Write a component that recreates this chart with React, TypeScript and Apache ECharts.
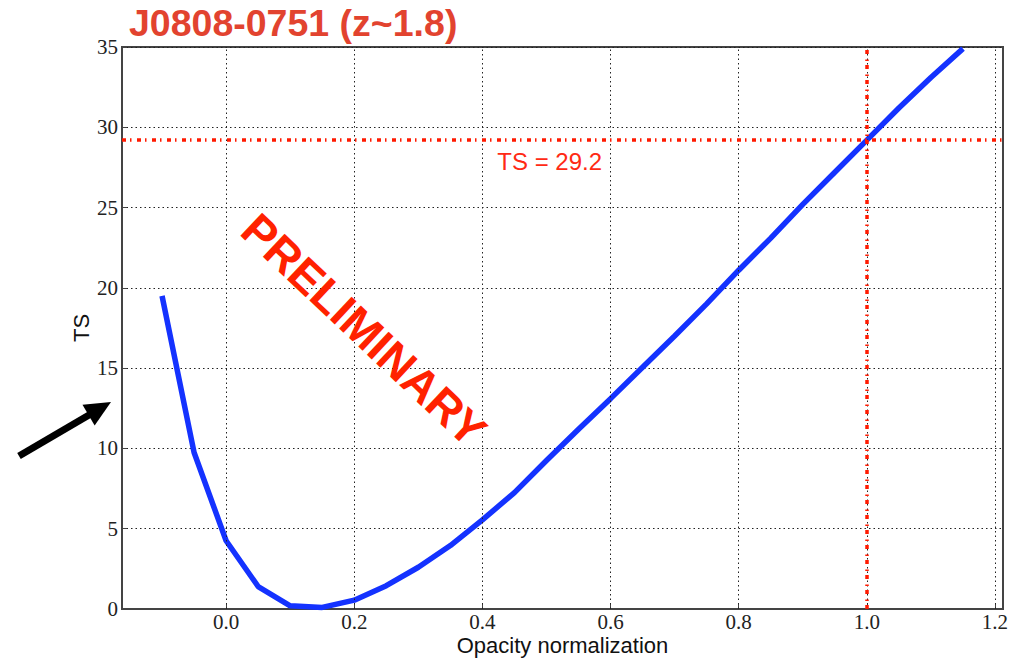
import { useEffect, useRef } from 'react';
import * as echarts from 'echarts';

// Likelihood scan: TS as a function of the opacity normalization
const opacityNorm = [
  -0.1, -0.05, 0.0, 0.05, 0.1, 0.15, 0.2, 0.25, 0.3, 0.35, 0.4, 0.45, 0.5,
  0.55, 0.6, 0.65, 0.7, 0.75, 0.8, 0.85, 0.9, 0.95, 1.0, 1.05, 1.1, 1.15,
];
const tsValues = [
  19.5, 9.75, 4.25, 1.4, 0.2, 0.1, 0.55, 1.45, 2.6, 3.95, 5.55, 7.25, 9.25,
  11.2, 13.1, 15.05, 17.0, 19.0, 21.1, 23.1, 25.2, 27.2, 29.2, 31.2, 33.1, 34.9,
];

const xTickValues = [0.0, 0.2, 0.4, 0.6, 0.8, 1.0, 1.2];
const xRange = [-0.1625, 1.2125];
const yRange = [0, 35];
const yTickStep = 5;

const referenceNorm = 1.0;
const referenceTS = 29.2;
const tsLabelAt = [0.505, 27.9];

const titleText = 'J0808-0751 (z~1.8)';
const stampText = 'PRELIMINARY';
const xName = 'Opacity normalization';
const yName = 'TS';

const serif = '"Liberation Serif", "DejaVu Serif", serif';
const sans = '"Liberation Sans", Arial, Helvetica, sans-serif';

export default function App() {
  const ref = useRef<HTMLDivElement>(null);

  useEffect(() => {
    if (!ref.current) return;
    const chart = echarts.init(ref.current, null, { renderer: 'svg' });

    const curve = opacityNorm.map((x, i) => [x, tsValues[i]]);
    const redDash = [4, 4, 1.5, 5.5];

    // arrow pointing at the axis from the left margin
    const tip = [111, 402];
    const tail = [19, 456];
    const dx = tip[0] - tail[0];
    const dy = tip[1] - tail[1];
    const len = Math.hypot(dx, dy);
    const ux = dx / len;
    const uy = dy / len;
    const headLen = 26;
    const headHalf = 12;
    const bx = tip[0] - ux * headLen;
    const by = tip[1] - uy * headLen;

    chart.setOption({
      animation: false,
      backgroundColor: '#ffffff',
      title: {
        text: titleText,
        left: 129,
        top: 4,
        padding: 0,
        textStyle: {
          fontFamily: sans,
          fontWeight: 'bold',
          fontSize: 37.5,
          color: '#e2432f',
        },
      },
      grid: {
        left: 122,
        right: 13,
        top: 47,
        bottom: 49,
        show: true,
        borderColor: '#444',
        borderWidth: 2,
        containLabel: false,
        outerBoundsMode: 'none',
      },
      xAxis: {
        type: 'value',
        min: xRange[0],
        max: xRange[1],
        name: xName,
        nameLocation: 'middle',
        nameGap: 24,
        nameMoveOverlap: false,
        nameTextStyle: { fontFamily: sans, fontSize: 22, color: '#111', lineHeight: 24 },
        axisLine: { show: true, onZero: false, lineStyle: { color: '#444', width: 2 } },
        axisTick: {
          show: true,
          inside: true,
          length: 5,
          customValues: xTickValues,
          lineStyle: { color: '#444', width: 1 },
        },
        axisLabel: {
          customValues: xTickValues,
          formatter: (v: number) => v.toFixed(1),
          fontFamily: serif,
          fontSize: 21,
          color: '#222',
          margin: 2,
        },
        splitLine: { show: false },
      },
      yAxis: {
        type: 'value',
        min: yRange[0],
        max: yRange[1],
        interval: yTickStep,
        name: yName,
        nameLocation: 'middle',
        nameGap: 30,
        nameRotate: 90,
        nameMoveOverlap: false,
        nameTextStyle: { fontFamily: sans, fontSize: 22, color: '#111' },
        axisLine: { show: true, onZero: false, lineStyle: { color: '#444', width: 2 } },
        axisTick: { show: true, inside: true, length: 5, lineStyle: { color: '#444', width: 1 } },
        axisLabel: {
          fontFamily: serif,
          fontSize: 21,
          color: '#222',
          margin: 4,
        },
        splitLine: {
          show: true,
          lineStyle: { color: '#222', width: 1, type: [1.5, 3] },
        },
      },
      series: [
        {
          // vertical grid lines at the labelled x ticks
          name: 'xgrid',
          type: 'line',
          data: [],
          z: 1,
          silent: true,
          markLine: {
            silent: true,
            symbol: 'none',
            label: { show: false },
            lineStyle: { color: '#222', width: 1, type: [1.5, 3] },
            data: xTickValues.map((v) => ({ xAxis: v })),
          },
        },
        {
          name: 'TS',
          type: 'line',
          data: curve,
          z: 3,
          showSymbol: false,
          symbol: 'none',
          lineStyle: { color: '#1432ff', width: 5.5 },
          markLine: {
            silent: true,
            symbol: 'none',
            label: { show: false },
            lineStyle: { color: '#ff1a00', width: 3.5, type: redDash },
            data: [{ yAxis: referenceTS }, { xAxis: referenceNorm }],
          },
          markPoint: {
            silent: true,
            symbol: 'circle',
            symbolSize: 1,
            itemStyle: { color: 'rgba(0,0,0,0)' },
            data: [
              {
                coord: tsLabelAt,
                value: referenceTS,
                label: {
                  show: true,
                  position: 'inside',
                  formatter: `TS = ${referenceTS.toFixed(1)}`,
                  fontFamily: sans,
                  fontSize: 24,
                  color: '#ff2a14',
                  align: 'center',
                  verticalAlign: 'middle',
                },
              },
            ],
          },
        },
      ],
      graphic: [
        {
          type: 'text',
          x: 364,
          y: 330,
          rotation: -0.755,
          style: {
            text: stampText,
            fontFamily: sans,
            fontWeight: 'bold',
            fontSize: 46,
            fill: '#ff2200',
            align: 'center',
            verticalAlign: 'middle',
          },
          z: 10,
        },
        {
          type: 'line',
          shape: { x1: tail[0], y1: tail[1], x2: bx + ux * 2, y2: by + uy * 2 },
          style: { stroke: '#000', lineWidth: 7 },
          z: 10,
        },
        {
          type: 'polygon',
          shape: {
            points: [
              [tip[0], tip[1]],
              [bx - uy * headHalf, by + ux * headHalf],
              [bx + uy * headHalf, by - ux * headHalf],
            ],
          },
          style: { fill: '#000' },
          z: 10,
        },
      ],
    });

    return () => chart.dispose();
  }, []);

  return (
    <div
      ref={ref}
      style={{ position: 'fixed', left: 0, top: 0, width: 1016, height: 658 }}
    />
  );
}
